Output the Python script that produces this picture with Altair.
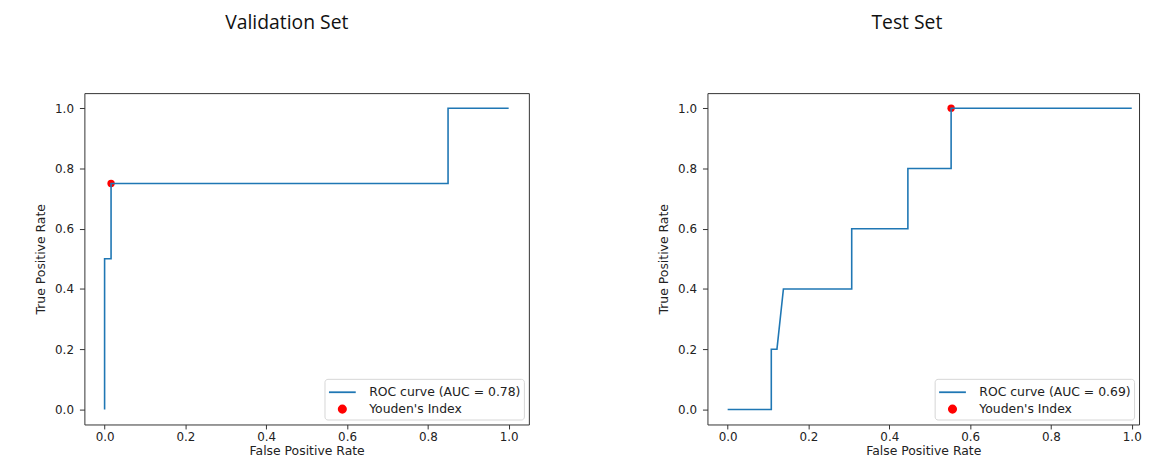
import altair as alt
import pandas as pd

# ---------------- data ----------------
val_fpr = [0.0, 0.0, 0.016, 0.016, 0.85, 0.85, 1.0]
val_tpr = [0.0, 0.5, 0.5, 0.75, 0.75, 1.0, 1.0]
val_youden_fpr = [0.016]
val_youden_tpr = [0.75]
val_auc = 0.78

test_fpr = [0.0, 0.108, 0.108, 0.122, 0.138, 0.307, 0.307, 0.446, 0.446, 0.553, 0.553, 1.0]
test_tpr = [0.0, 0.0, 0.2, 0.2, 0.4, 0.4, 0.6, 0.6, 0.8, 0.8, 1.0, 1.0]
test_youden_fpr = [0.553]
test_youden_tpr = [1.0]
test_auc = 0.69

tick_values = [0.0, 0.2, 0.4, 0.6, 0.8, 1.0]
titles = ["Validation Set", "Test Set"]

BLUE = "#1f77b4"
RED = "#ff0000"
TXT = "#222222"

SYM_SIZE = 342                      # legend row height ~18.5 px
HALF = SYM_SIZE ** 0.5 / 2          # unit -> px factor of custom symbol paths
LINE_PATH = f"M-{13.5 / HALF:.3f},0H{13.5 / HALF:.3f}"
R = 3.7 / HALF
DOT_PATH = f"M-{R:.3f},0A{R:.3f},{R:.3f},0,1,1,{R:.3f},0A{R:.3f},{R:.3f},0,1,1,-{R:.3f},0Z"


def panel(fpr, tpr, yfpr, ytpr, auc, title, dx, width, xmax):
    roc_label = f"ROC curve (AUC = {auc:.2f})"
    you_label = "Youden's Index"
    df = pd.DataFrame({"fpr": fpr, "tpr": tpr, "i": list(range(len(fpr))),
                       "series": [roc_label] * len(fpr)})
    pt = pd.DataFrame({"fpr": yfpr, "tpr": ytpr, "series": [you_label] * len(yfpr)})

    xs = alt.Scale(domain=[-0.05, xmax], nice=False, zero=False)
    ys = alt.Scale(domain=[-0.05, 1.05], nice=False, zero=False)

    is_roc = f"datum.value === '{roc_label}'"
    legend = alt.Legend(
        title=None, orient="bottom-right", offset=5, padding=3,
        fillColor="white", strokeColor="#d6d6d6", cornerRadius=3,
        labelFont="DejaVu Sans", labelFontSize=12.5, labelColor=TXT, labelLimit=400,
        symbolSize=SYM_SIZE, rowPadding=0, labelOffset=16.5, symbolOffset=4.5,
        symbolType={"expr": f"{is_roc} ? '{LINE_PATH}' : '{DOT_PATH}'"},
        symbolFillColor={"expr": f"{is_roc} ? 'transparent' : '{RED}'"},
        symbolStrokeColor={"expr": f"{is_roc} ? '{BLUE}' : 'transparent'"},
        symbolStrokeWidth=1.8,
        symbolOpacity=1,
    )
    color = alt.Color("series:N",
                      scale=alt.Scale(domain=[roc_label, you_label], range=[BLUE, RED]),
                      legend=legend)

    xaxis = alt.Axis(values=tick_values, format=".1f", title="False Positive Rate",
                     grid=False, domain=False, tickSize=4.5, labelPadding=3, titlePadding=1.5)
    yaxis = alt.Axis(values=tick_values, format=".1f", title="True Positive Rate",
                     grid=False, domain=False, tickSize=5, labelPadding=6, titlePadding=7.5)

    pts = alt.Chart(pt).mark_circle(size=55, opacity=1).encode(
        x=alt.X("fpr:Q", scale=xs, axis=xaxis),
        y=alt.Y("tpr:Q", scale=ys, axis=yaxis),
        color=color,
    )
    line = alt.Chart(df).mark_line(strokeWidth=1.6).encode(
        x=alt.X("fpr:Q", scale=xs, axis=xaxis),
        y=alt.Y("tpr:Q", scale=ys, axis=yaxis),
        order="i:Q",
        color=color,
    )
    return alt.layer(pts, line).properties(
        width=width, height=334,
        title=alt.TitleParams(title, font="Open Sans", fontSize=19.5, fontWeight="normal",
                              color="#111111", anchor="middle", offset=60.5, dx=dx),
    )


left = panel(val_fpr, val_tpr, val_youden_fpr, val_youden_tpr, val_auc, titles[0],
             -20, 448, 1.05)
right = panel(test_fpr, test_tpr, test_youden_fpr, test_youden_tpr, test_auc, titles[1],
              -16.5, 435, 1.018)

chart = alt.hconcat(left, right, spacing=127).resolve_scale(
    color="independent", x="independent", y="independent"
).resolve_legend(color="independent").properties(
    padding={"left": 25, "top": 2, "right": 0, "bottom": 0}
).configure(
    background="white"
).configure_view(
    stroke="#333333", strokeWidth=1
).configure_axis(
    labelFont="DejaVu Sans", labelFontSize=12, labelColor=TXT,
    titleFont="DejaVu Sans", titleFontSize=12.5, titleFontWeight="normal", titleColor=TXT,
    tickColor="#333333", tickWidth=1,
)

chart.save("out.html", embed_options={"renderer": "svg", "actions": False})
